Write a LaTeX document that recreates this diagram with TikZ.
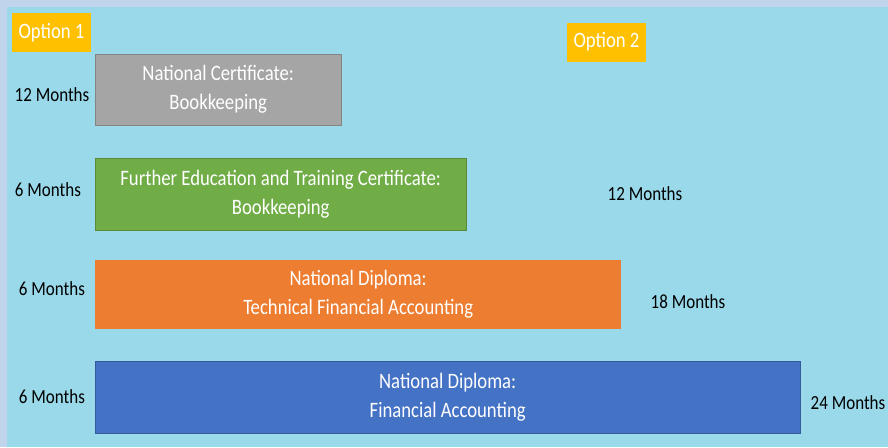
\documentclass[tikz,border=0pt]{standalone}
\usepackage{fontspec}
\setmainfont{Carlito}[FakeStretch=0.85]
\usepackage{tikz}
\usetikzlibrary{positioning}
\definecolor{paleblue}{HTML}{C0D4EC}
\definecolor{skyblue}{HTML}{99D9EA}
\definecolor{optgold}{HTML}{FFC000}
\definecolor{ncgray}{HTML}{A5A5A5}
\definecolor{fetgreen}{HTML}{70AD47}
\definecolor{ndorange}{HTML}{ED7D31}
\definecolor{ndblue}{HTML}{4472C4}

\begin{document}
\begin{tikzpicture}
[x=1pt,y=-1pt,
 opt/.style={fill=optgold,text=white,inner sep=0pt,minimum width=79pt,minimum height=39pt,font=\fontsize{22}{26}\selectfont},
 qual/.style={anchor=north west,inner sep=0pt,text=white,align=center,font=\fontsize{22}{29}\selectfont},
 dur/.style={inner sep=0pt,font=\fontsize{20}{24}\selectfont}]
% background
\fill[paleblue] (0,0) rectangle (888,447);
\fill[skyblue] (7,7) rectangle (888,447);
\useasboundingbox (0,0) rectangle (888,447);
% options
\node[opt] (opt1) at (51.5,32.5) {Option 1};
\node[opt] (opt2) at (606.5,42) {Option 2};
% qualifications
\node[qual,fill=ncgray,draw=ncgray!80!black,minimum width=246pt,minimum height=71pt] (ncBox) at (95,54)
	{National Certificate:\\Bookkeeping};
\node[qual,fill=fetgreen,draw=fetgreen!80!black,minimum width=371pt,minimum height=72pt] (fetBox) at (95,158)
	{Further Education and Training Certificate:\\Bookkeeping};
\node[qual,fill=ndorange,minimum width=526pt,minimum height=69pt] (ndtBox) at (95,260)
	{National Diploma:\\Technical Financial Accounting};
\node[qual,fill=ndblue,draw=ndblue!80!black,minimum width=705pt,minimum height=72pt] (ndBox) at (95,361)
	{National Diploma:\\Financial Accounting};
% durations, option 1
\node[dur] (ncDur) at (52,95) {12 Months};
\node[dur] (fetDur) at (48,190) {6 Months};
\node[dur] (ndtDur) at (52,289) {6 Months};
\node[dur] (ndDur) at (52,397) {6 Months};
% durations, option 2
\node[dur] (fetTot) at (645,194) {12 Months};
\node[dur] (ndtTot) at (688,302) {18 Months};
\node[dur] (ndTot) at (848,403) {24 Months};
\end{tikzpicture}
\end{document}
